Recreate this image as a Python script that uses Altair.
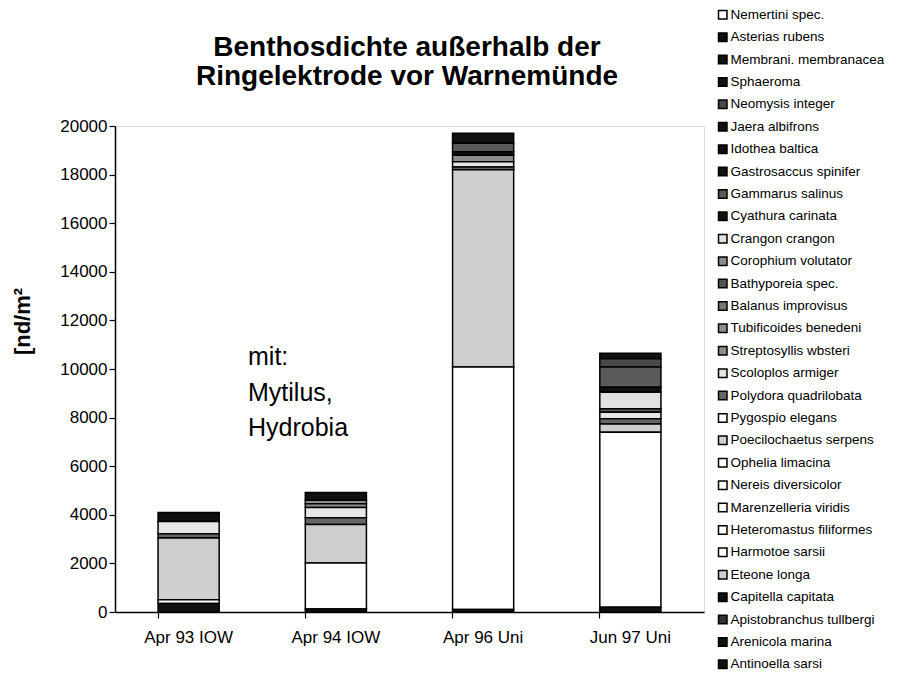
import altair as alt
import pandas as pd

samples = ["Apr 93 IOW", "Apr 94 IOW", "Apr 96 Uni", "Jun 97 Uni"]
title_lines = ["Benthosdichte außerhalb der", "Ringelektrode vor Warnemünde"]
note_text = "mit:\nMytilus,\nHydrobia"

# legend order (top of legend = top of stack)
species = [
    "Nemertini spec.", "Asterias rubens", "Membrani. membranacea", "Sphaeroma",
    "Neomysis integer", "Jaera albifrons", "Idothea baltica", "Gastrosaccus spinifer",
    "Gammarus salinus", "Cyathura carinata", "Crangon crangon", "Corophium volutator",
    "Bathyporeia spec.", "Balanus improvisus", "Tubificoides benedeni",
    "Streptosyllis wbsteri", "Scoloplos armiger", "Polydora quadrilobata",
    "Pygospio elegans", "Poecilochaetus serpens", "Ophelia limacina",
    "Nereis diversicolor", "Marenzelleria viridis", "Heteromastus filiformes",
    "Harmotoe sarsii", "Eteone longa", "Capitella capitata",
    "Apistobranchus tullbergi", "Arenicola marina", "Antinoella sarsi",
]

fills = [
    "#ffffff", "#111111", "#111111", "#111111",
    "#4a4a4a", "#111111", "#111111", "#111111",
    "#5a5a5a", "#111111", "#e2e2e2", "#8c8c8c",
    "#555555", "#777777", "#8c8c8c",
    "#8c8c8c", "#e6e6e6", "#666666",
    "#ffffff", "#cfcfcf", "#ffffff",
    "#ffffff", "#ffffff", "#ffffff",
    "#ffffff", "#cfcfcf", "#111111",
    "#333333", "#111111", "#111111",
]

# Individuals per m² (same order as species)
apr93_iow = [0, 0, 0, 0, 0, 0, 0, 0, 0, 370, 0, 0, 0, 0, 0,
             0, 500, 170, 0, 2550, 0, 0, 0, 150, 0, 0, 0, 0, 350, 0]
apr94_iow = [0, 0, 0, 0, 0, 0, 0, 0, 0, 320, 0, 0, 0, 0, 150,
             150, 420, 280, 0, 1580, 0, 0, 1900, 0, 0, 0, 120, 0, 0, 0]
apr96_uni = [0, 0, 0, 0, 0, 0, 0, 410, 350, 140, 0, 0, 0, 0, 0,
             270, 220, 110, 0, 8120, 0, 0, 9980, 0, 0, 0, 0, 0, 0, 100]
jun97_uni = [0, 0, 230, 0, 340, 0, 0, 0, 830, 205, 685, 0, 140, 0, 0,
             0, 270, 210, 0, 340, 0, 0, 7200, 0, 0, 0, 0, 0, 200, 0]

series = [apr93_iow, apr94_iow, apr96_uni, jun97_uni]
rows = []
for s, vals in zip(samples, series):
    for i, (sp, v) in enumerate(zip(species, vals)):
        if v > 0:
            rows.append({"Probe": s, "Art": sp, "n": v, "stack": len(species) - 1 - i})
df = pd.DataFrame(rows)

FONT = "Liberation Sans"

bars = alt.Chart(df).mark_bar(stroke="black", strokeWidth=1.5).encode(
    x=alt.X("Probe:N", sort=samples,
            scale=alt.Scale(paddingInner=0.585, paddingOuter=0.2925),
            axis=alt.Axis(title=None, labelAngle=0, labelFont=FONT, labelFontSize=17,
                          labelColor="black", labelPadding=11, tickSize=6,
                          bandPosition=0, tickColor="black", domainColor="black",
                          domainWidth=1.5, tickWidth=1.2)),
    y=alt.Y("n:Q", stack="zero",
            scale=alt.Scale(domain=[0, 20000], nice=False),
            axis=alt.Axis(title="[nd/m²", values=list(range(0, 20001, 2000)),
                          format="d", grid=False, labelFont=FONT, labelFontSize=17,
                          labelColor="black", labelPadding=2, tickSize=6,
                          tickColor="black", domainColor="black", domainWidth=1.5,
                          tickWidth=1.2, titleFont=FONT, titleFontSize=22,
                          titleFontWeight="bold", titleColor="black",
                          titleX=-93, titleY=195, titleAngle=270,
                          titleAlign="center", titleBaseline="middle")),
    color=alt.Color("Art:N", scale=alt.Scale(domain=species, range=fills),
                    legend=alt.Legend(title=None, orient="none", legendX=601,
                                      legendY=-118, symbolType="square",
                                      symbolSize=72, symbolStrokeColor="black",
                                      symbolStrokeWidth=1.5, symbolOpacity=1,
                                      labelFont=FONT, labelFontSize=13.5,
                                      labelColor="black", labelOffset=1,
                                      rowPadding=7.4, padding=0,
                                      labelLimit=200)),
    order=alt.Order("stack:Q", sort="ascending"),
)

note = alt.Chart(pd.DataFrame({"t": [note_text]})).mark_text(
    align="left", baseline="middle", font=FONT, fontSize=25, lineHeight=35.5,
    lineBreak="\n", color="black"
).encode(text="t:N", x=alt.value(133), y=alt.value(231))

title1 = alt.Chart(pd.DataFrame({"t": [title_lines[0]]})).mark_text(
    align="center", baseline="alphabetic", font=FONT, fontSize=28,
    fontWeight="bold", color="black"
).encode(text="t:N", x=alt.value(292), y=alt.value(-70))

title2 = alt.Chart(pd.DataFrame({"t": [title_lines[1]]})).mark_text(
    align="center", baseline="alphabetic", font=FONT, fontSize=28,
    fontWeight="bold", color="black"
).encode(text="t:N", x=alt.value(292), y=alt.value(-41))

chart = alt.layer(bars, note, title1, title2).properties(
    width=589, height=486,
    autosize=alt.AutoSizeParams(type="none"),
    padding={"left": 107, "top": 118, "right": 180, "bottom": 62},
).configure_view(stroke="black", strokeWidth=1).configure(background="white")

chart.save("out.html", embed_options={"renderer": "svg", "actions": False})
